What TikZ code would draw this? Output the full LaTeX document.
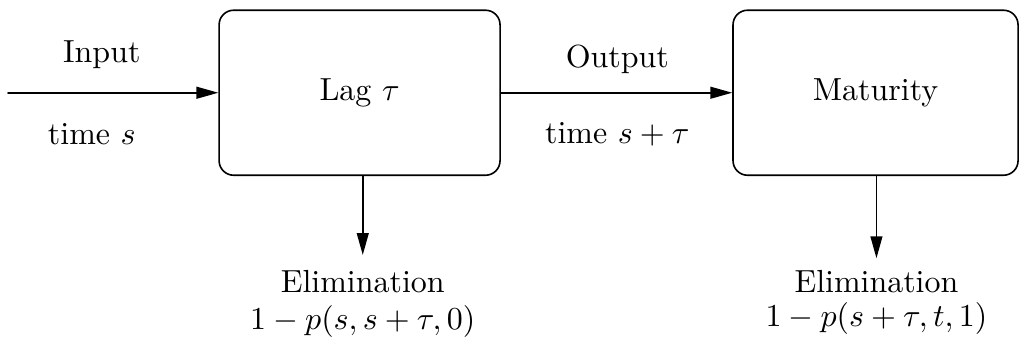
\documentclass[tikz,border=0pt]{standalone}
\usetikzlibrary{arrows.meta}
\tikzset{
  stage/.style={draw, line width=0.5pt, rounded corners=0.16cm, minimum width=3.09cm, minimum height=1.815cm},
  flow/.style={line width=0.5pt, -{Triangle[length=2.4mm,width=1.3mm]}},
  tag/.style={inner sep=0.5pt}
}
\begin{document}
\begin{tikzpicture}[line cap=round,line join=round]
  \useasboundingbox (0,0) rectangle (11.23,3.75);
  \node[stage] (lag) at (3.955,2.73) {Lag $\tau$};
  \node[stage, minimum width=3.135cm] (mat) at (9.63,2.73) {Maturity};
  \coordinate (in) at (0.088,2.73);
  \coordinate (lagend) at (3.99,0.946);
  \coordinate (matend) at (9.64,0.91);
  \draw[flow] (in) -- (lag.west);
  \draw[flow] (lag.east) -- (mat.west);
  \draw[flow] (lag.south -| lagend) -- (lagend);
  \draw[flow] (mat.south -| matend) -- (matend);
  \node[tag] (inlab) at (1.12,3.15) {Input};
  \node[tag] (intime) at (1.01,2.27) {time $s$};
  \node[tag] (outlab) at (6.79,3.10) {Output};
  \node[tag] (outtime) at (6.79,2.27) {time $s+\tau$};
  \node[tag] (elimA) at (3.99,0.65) {Elimination};
  \node[tag] (probA) at (3.99,0.21) {$1-p(s,s+\tau,0)$};
  \node[tag] (elimB) at (9.64,0.65) {Elimination};
  \node[tag] (probB) at (9.64,0.25) {$1-p(s+\tau,t,1)$};
\end{tikzpicture}
\end{document}
